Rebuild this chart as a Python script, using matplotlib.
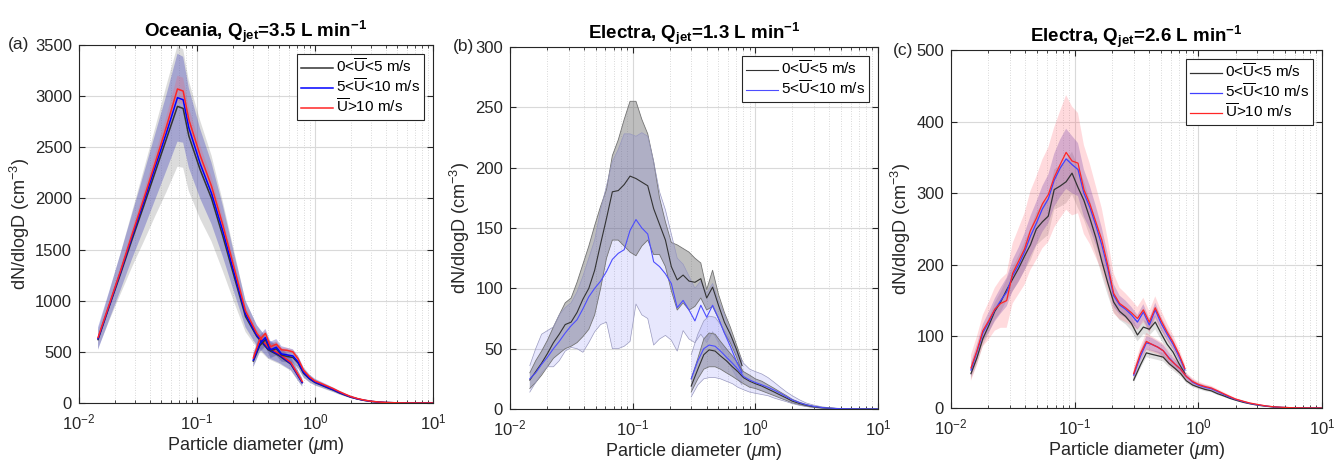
import numpy as np
import matplotlib
matplotlib.use("Agg")
import matplotlib.pyplot as plt
from matplotlib.ticker import LogLocator, NullFormatter

plt.rcParams['font.family'] = ['Liberation Sans', 'DejaVu Sans']
plt.rcParams['mathtext.fontset'] = 'custom'
plt.rcParams['mathtext.rm'] = 'Liberation Sans'
plt.rcParams['mathtext.it'] = 'Liberation Sans:italic'
plt.rcParams['mathtext.bf'] = 'Liberation Sans:bold'

# ---------------- diameter grids (um) ----------------
d_smps = [0.0145, 0.0162, 0.0181, 0.0202, 0.0226, 0.0252, 0.0282, 0.0315, 0.0352, 0.0393,
          0.0439, 0.0490, 0.0548, 0.0612, 0.0683, 0.0763, 0.0853, 0.0952, 0.1064, 0.1188,
          0.1327, 0.1483, 0.1656, 0.1850, 0.2066, 0.2308, 0.2578, 0.2880, 0.3217, 0.3593,
          0.4014, 0.4483, 0.5008, 0.5594, 0.6248, 0.6979, 0.7796]
d_smps_a = [0.0145, 0.018, 0.0226, 0.0282, 0.0352, 0.044, 0.055, 0.0683, 0.0763, 0.0853,
            0.1064, 0.1327, 0.1656, 0.2066, 0.2578, 0.3217, 0.4014, 0.5008, 0.6248, 0.7796]
d_aps = [0.30, 0.34, 0.38, 0.42, 0.47, 0.52, 0.58, 0.65, 0.72, 0.80, 0.90, 1.0, 1.13, 1.27,
         1.43, 1.6, 1.8, 2.0, 2.3, 2.6, 3.0, 3.5, 4.0, 4.7, 5.5, 6.5, 7.8, 10.0]

# ---------------- panel (a): Oceania, 3.5 L/min ----------------
a_smps_k = [620, 940, 1270, 1600, 1920, 2250, 2580, 2900, 2880, 2610, 2280, 2000, 1630, 1235, 845, 650, 520, 460, 380, 200]
a_smps_b = [630, 950, 1290, 1630, 1960, 2300, 2640, 2985, 2965, 2690, 2340, 2050, 1680, 1270, 870, 660, 530, 470, 385, 200]
a_smps_r = [640, 960, 1300, 1650, 1990, 2340, 2700, 3070, 3050, 2770, 2420, 2120, 1740, 1320, 900, 680, 545, 480, 395, 210]
a_smps_k_sd = [90, 140, 200, 270, 350, 430, 520, 590, 580, 540, 480, 420, 340, 250, 150, 110, 90, 80, 65, 40]
a_smps_b_sd = [110, 140, 180, 220, 270, 320, 370, 430, 420, 390, 340, 300, 250, 190, 130, 100, 90, 80, 65, 40]
a_smps_r_sd = [30, 35, 45, 55, 70, 85, 100, 130, 130, 120, 100, 90, 75, 60, 45, 35, 30, 30, 25, 20]
a_aps_k = [410, 560, 620, 510, 530, 470, 455, 445, 390, 290, 235, 200, 175, 150, 126, 100, 77, 58, 39, 26, 15, 8, 4.3, 2.1, 1.0, 0.5, 0.25, 0.1]
a_aps_b = [420, 580, 640, 520, 545, 480, 470, 460, 400, 300, 240, 205, 180, 155, 130, 104, 80, 60, 40, 27, 16, 8.5, 4.5, 2.2, 1.1, 0.5, 0.25, 0.1]
a_aps_r = [440, 620, 680, 550, 575, 520, 515, 500, 430, 320, 255, 215, 190, 165, 140, 112, 86, 64, 43, 29, 17, 9, 5, 2.5, 1.2, 0.6, 0.3, 0.1]
a_aps_k_sd = [60, 70, 75, 70, 70, 65, 65, 60, 55, 45, 35, 30, 27, 24, 20, 17, 13, 10, 7, 5, 3, 2, 1, 0.5, 0.3, 0.1, 0.05, 0]
a_aps_b_sd = [70, 80, 85, 80, 80, 75, 70, 65, 60, 48, 38, 32, 28, 25, 21, 18, 14, 11, 8, 5, 3, 2, 1, 0.5, 0.3, 0.1, 0.05, 0]
a_aps_r_sd = [20, 25, 30, 25, 25, 22, 22, 20, 18, 15, 12, 10, 9, 8, 7, 6, 5, 4, 3, 2, 1, 0.5, 0.3, 0.2, 0.1, 0.05, 0, 0]

# ---------------- panel (b): Electra, 1.3 L/min (mean, lower, upper) ----------------
b_smps_k = [24, 31, 38, 46, 55, 62, 70, 72, 80, 91, 100, 115, 137, 158, 180, 181, 186, 193, 191, 188,
            185, 166, 153, 140, 118, 107, 111, 106, 105, 108, 92, 101, 86, 72, 62, 50, 36]
b_smps_k_lo = [17, 22, 28, 35, 42, 46, 50, 52, 55, 60, 66, 78, 100, 125, 140, 140, 135, 130, 127, 135,
               140, 128, 128, 118, 98, 82, 88, 82, 85, 92, 82, 85, 75, 63, 55, 44, 31]
b_smps_k_hi = [30, 40, 48, 57, 68, 78, 88, 92, 105, 120, 135, 152, 168, 182, 210, 223, 240, 255, 255, 240,
               228, 205, 175, 155, 138, 136, 133, 130, 125, 121, 99, 115, 95, 80, 68, 54, 40]
b_smps_b = [25, 30, 37, 43, 50, 56, 63, 69, 74, 83, 93, 100, 106, 114, 124, 129, 132, 148, 157, 150,
            145, 122, 118, 112, 104, 84, 90, 82, 73, 86, 76, 86, 75, 63, 52, 40, 30]
b_smps_b_lo = [14, 22, 30, 35, 35, 40, 48, 51, 50, 47, 55, 64, 70, 72, 50, 50, 52, 56, 87, 78,
               75, 53, 58, 61, 57, 48, 65, 58, 55, 62, 55, 64, 55, 45, 36, 27, 20]
b_smps_b_hi = [36, 50, 62, 65, 68, 78, 84, 88, 97, 110, 125, 140, 165, 185, 205, 215, 228, 228, 226, 229,
               226, 205, 180, 165, 145, 125, 120, 110, 100, 106, 96, 104, 90, 78, 64, 50, 38]
b_aps_k = [19, 33, 45, 49, 48, 44, 40, 35, 31, 26, 23, 21, 19, 16.5, 14, 11.5, 9, 6.5, 4.5, 3, 1.8, 1, 0.6, 0.3, 0.15, 0.1, 0.05, 0]
b_aps_k_lo = [14, 25, 33, 35, 35, 33, 30, 27, 24, 21, 18, 17, 15, 13, 11, 9, 7, 5, 3.5, 2.3, 1.3, 0.7, 0.4, 0.2, 0.1, 0.05, 0.02, 0]
b_aps_k_hi = [25, 42, 58, 63, 62, 56, 50, 44, 38, 31, 28, 25, 23, 20, 17, 14, 11, 8, 5.5, 3.8, 2.3, 1.3, 0.8, 0.4, 0.2, 0.15, 0.08, 0]
b_aps_b = [25, 40, 50, 53, 52, 48, 43, 38, 33, 27, 24, 22, 20, 18, 15.5, 13, 10, 7.5, 5.2, 3.5, 2.2, 1.2, 0.7, 0.35, 0.2, 0.1, 0.05, 0]
b_aps_b_lo = [10, 20, 25, 26, 26, 25, 23, 21, 18, 16, 14, 13, 12, 11, 9, 7.5, 6, 4.5, 3, 2, 1.2, 0.6, 0.3, 0.15, 0.08, 0.04, 0.02, 0]
b_aps_b_hi = [45, 62, 73, 77, 76, 70, 63, 55, 47, 38, 33, 31, 29, 26, 22, 18, 14, 11, 7.5, 5, 3.2, 1.8, 1.1, 0.6, 0.3, 0.15, 0.08, 0]

# ---------------- panel (c): Electra, 2.6 L/min ----------------
c_smps_k = [48, 70, 97, 115, 135, 148, 165, 180, 195, 212, 228, 250, 260, 268, 305, 310, 316, 328, 308, 290,
            265, 238, 205, 175, 148, 135, 128, 118, 102, 113, 110, 120, 104, 89, 78, 62, 48]
c_smps_b = [53, 78, 105, 120, 137, 150, 162, 185, 200, 218, 240, 258, 278, 292, 318, 335, 348, 340, 333, 300,
            280, 255, 228, 195, 157, 144, 138, 130, 120, 134, 116, 137, 118, 103, 89, 72, 53]
c_smps_r = [56, 80, 108, 122, 138, 146, 150, 188, 205, 222, 248, 265, 285, 298, 322, 340, 357, 345, 342, 305,
            285, 260, 235, 200, 160, 146, 140, 133, 125, 137, 120, 140, 122, 106, 92, 75, 55]
c_smps_k_sd = [8, 9, 10, 11, 12, 14, 15, 17, 18, 20, 22, 23, 25, 26, 28, 29, 30, 30, 29, 27,
               25, 23, 20, 17, 14, 12, 11, 10, 9, 10, 9, 10, 9, 8, 7, 6, 5]
c_smps_b_sd = [10, 11, 12, 14, 16, 18, 20, 22, 24, 26, 28, 30, 32, 34, 37, 40, 42, 40, 37, 33,
               30, 27, 24, 20, 16, 13, 12, 11, 10, 11, 9, 10, 9, 8, 7, 6, 5]
c_smps_r_sd = [18, 20, 22, 26, 30, 34, 38, 42, 46, 50, 55, 58, 62, 66, 70, 75, 80, 76, 70, 62,
               56, 50, 44, 36, 28, 22, 20, 18, 16, 17, 15, 16, 14, 12, 10, 8, 6]
c_aps_k = [39, 60, 77, 75, 73, 71, 62, 55, 48, 38, 32, 29, 26, 24, 20, 17, 13.5, 11, 8, 6, 4, 2.5, 1.5, 0.8, 0.4, 0.2, 0.1, 0]
c_aps_b = [46, 72, 91, 89, 85, 80, 70, 61, 54, 44, 36, 32, 29, 27, 23, 19, 15, 12, 9, 6.5, 4.5, 2.8, 1.7, 0.9, 0.45, 0.2, 0.1, 0]
c_aps_r = [48, 76, 93, 89, 85, 80, 69, 61, 54, 44, 37, 33, 30, 28, 24, 20, 16, 12.5, 9.5, 7, 5, 3, 1.8, 1.0, 0.5, 0.25, 0.12, 0]
c_aps_k_sd = [4, 5, 6, 6, 6, 6, 5, 5, 4, 3, 3, 2.5, 2.5, 2, 2, 1.5, 1.2, 1, 0.8, 0.6, 0.4, 0.3, 0.2, 0.1, 0.05, 0.02, 0, 0]
c_aps_b_sd = [6, 8, 9, 9, 8, 8, 7, 6, 5, 4, 3.5, 3, 3, 2.5, 2, 2, 1.5, 1.2, 1, 0.7, 0.5, 0.3, 0.2, 0.1, 0.05, 0.02, 0, 0]
c_aps_r_sd = [8, 10, 12, 11, 10, 10, 9, 8, 7, 5, 4.5, 4, 3.5, 3, 2.5, 2.2, 1.8, 1.5, 1.2, 0.9, 0.6, 0.4, 0.25, 0.15, 0.08, 0.04, 0, 0]

titles = [r'Oceania, Q$_{\mathbf{jet}}$=3.5 L min$^{\mathbf{-1}}$',
          r'Electra, Q$_{\mathbf{jet}}$=1.3 L min$^{\mathbf{-1}}$',
          r'Electra, Q$_{\mathbf{jet}}$=2.6 L min$^{\mathbf{-1}}$']
panel_tags = ['(a)', '(b)', '(c)']
ylims = [3500, 300, 500]
yticks = [[0, 500, 1000, 1500, 2000, 2500, 3000, 3500],
          [0, 50, 100, 150, 200, 250, 300],
          [0, 100, 200, 300, 400, 500]]
labels = [r'0<$\overline{\mathrm{U}}$<5 m/s', r'5<$\overline{\mathrm{U}}$<10 m/s', r'$\overline{\mathrm{U}}$>10 m/s']

W, H = 1334, 462
fig = plt.figure(figsize=(W / 100, H / 100), dpi=100)
boxes = [(79, 45, 433, 403), (510, 47, 878, 409), (951, 50, 1322, 408)]
tag_x = [8, 453, 893]
axes = []
for (l, t, r, b) in boxes:
    axes.append(fig.add_axes([l / W, (H - b) / H, (r - l) / W, (b - t) / H]))

KC = (0.2, 0.2, 0.2)
RC = (1.0, 0.15, 0.15)
TXT = (0.15, 0.15, 0.15)


def band(ax, d, lo, hi, fc, alpha, ec='none', lw=0.0):
    ax.fill_between(d, lo, hi, facecolor=fc, alpha=alpha, edgecolor='none', linewidth=0)
    if ec != 'none':
        ax.plot(d, lo, color=ec, lw=lw)
        ax.plot(d, hi, color=ec, lw=lw)


def sd_band(ax, d, m, s, fc, alpha):
    m = np.array(m, float)
    s = np.array(s, float)
    band(ax, d, m - s, m + s, fc, alpha)


# ---- (a)
ax = axes[0]
for d, k, ks, b_, bs, r, rs in [(d_smps_a, a_smps_k, a_smps_k_sd, a_smps_b, a_smps_b_sd, a_smps_r, a_smps_r_sd),
                                 (d_aps, a_aps_k, a_aps_k_sd, a_aps_b, a_aps_b_sd, a_aps_r, a_aps_r_sd)]:
    sd_band(ax, d, k, ks, (0.55, 0.55, 0.55), 0.3)
    sd_band(ax, d, b_, bs, (0.3, 0.3, 0.75), 0.38)
    sd_band(ax, d, r, rs, (1.0, 0.3, 0.35), 0.2)
for i, (d, k, b_, r) in enumerate([(d_smps_a, a_smps_k, a_smps_b, a_smps_r), (d_aps, a_aps_k, a_aps_b, a_aps_r)]):
    ax.plot(d, k, color=KC, lw=1.1, label=labels[0] if i == 0 else None)
    ax.plot(d, b_, color=(0, 0, 1), lw=1.1, label=labels[1] if i == 0 else None)
    ax.plot(d, r, color=RC, lw=1.1, label=labels[2] if i == 0 else None)

# ---- (b)
ax = axes[1]
for d, k, klo, khi, b_, blo, bhi in [(d_smps, b_smps_k, b_smps_k_lo, b_smps_k_hi, b_smps_b, b_smps_b_lo, b_smps_b_hi),
                                      (d_aps, b_aps_k, b_aps_k_lo, b_aps_k_hi, b_aps_b, b_aps_b_lo, b_aps_b_hi)]:
    band(ax, d, klo, khi, (0.4, 0.4, 0.4), 0.42, ec=(0.45, 0.45, 0.45), lw=0.6)
    band(ax, d, blo, bhi, (0.35, 0.35, 0.95), 0.14, ec=(0.6, 0.6, 0.75), lw=0.5)
for i, (d, k, b_) in enumerate([(d_smps, b_smps_k, b_smps_b), (d_aps, b_aps_k, b_aps_b)]):
    ax.plot(d, k, color=KC, lw=0.8, label=labels[0] if i == 0 else None)
    ax.plot(d, b_, color=(0.3, 0.3, 1.0), lw=0.8, label=labels[1] if i == 0 else None)

# ---- (c)
ax = axes[2]
for d, k, ks, b_, bs, r, rs in [(d_smps, c_smps_k, c_smps_k_sd, c_smps_b, c_smps_b_sd, c_smps_r, c_smps_r_sd),
                                 (d_aps, c_aps_k, c_aps_k_sd, c_aps_b, c_aps_b_sd, c_aps_r, c_aps_r_sd)]:
    sd_band(ax, d, k, ks, (0.5, 0.5, 0.5), 0.25)
    sd_band(ax, d, b_, bs, (0.35, 0.25, 0.75), 0.3)
    sd_band(ax, d, r, rs, (1.0, 0.35, 0.4), 0.22)
for i, (d, k, b_, r) in enumerate([(d_smps, c_smps_k, c_smps_b, c_smps_r), (d_aps, c_aps_k, c_aps_b, c_aps_r)]):
    ax.plot(d, k, color=KC, lw=0.9, label=labels[0] if i == 0 else None)
    ax.plot(d, b_, color=(0.25, 0.25, 1.0), lw=0.9, label=labels[1] if i == 0 else None)
    ax.plot(d, r, color=RC, lw=0.9, label=labels[2] if i == 0 else None)

for i, ax in enumerate(axes):
    ax.set_xscale('log')
    ax.set_xlim(0.01, 10)
    ax.set_ylim(0, ylims[i])
    ax.set_yticks(yticks[i])
    ax.xaxis.set_major_locator(LogLocator(base=10, numticks=10))
    ax.xaxis.set_minor_locator(LogLocator(base=10, subs=np.arange(2, 10), numticks=20))
    ax.xaxis.set_minor_formatter(NullFormatter())
    ax.grid(True, which='major', color=(0.85, 0.85, 0.85), lw=0.8)
    ax.grid(True, which='minor', axis='x', color=(0.8, 0.8, 0.8), lw=0.6, ls=(0, (1, 2)))
    ax.set_axisbelow(True)
    for sp in ax.spines.values():
        sp.set_color(TXT)
        sp.set_linewidth(0.8)
    ax.tick_params(which='both', direction='in', top=True, right=True, labelsize=12,
                   colors=TXT, labelcolor=TXT)
    ax.tick_params(which='major', length=4)
    ax.tick_params(which='minor', length=2)
    ax.tick_params(axis='x', which='major', pad=7)
    ax.tick_params(axis='y', which='major', pad=5)
    ax.set_xlabel(r'Particle diameter ($\mu$m)', fontsize=13, color=TXT, labelpad=2)
    ax.set_ylabel(r'dN/dlogD (cm$^{-3}$)', fontsize=13, color=TXT, labelpad=2)
    ax.set_title(titles[i], fontsize=13.5, fontweight='bold', pad=6)
    leg = ax.legend(loc='upper right', fontsize=11, frameon=True, fancybox=False, framealpha=1,
                    edgecolor=TXT, handlelength=2.1, handletextpad=0.2,
                    labelspacing=0.12, borderpad=0.25, borderaxespad=0.6)
    leg.get_frame().set_linewidth(0.8)
    pos = ax.get_position()
    fig.text(tag_x[i] / W, pos.y1, panel_tags[i], fontsize=12.5, ha='left', va='center', color=TXT)

fig.savefig('out.png', dpi=100)
